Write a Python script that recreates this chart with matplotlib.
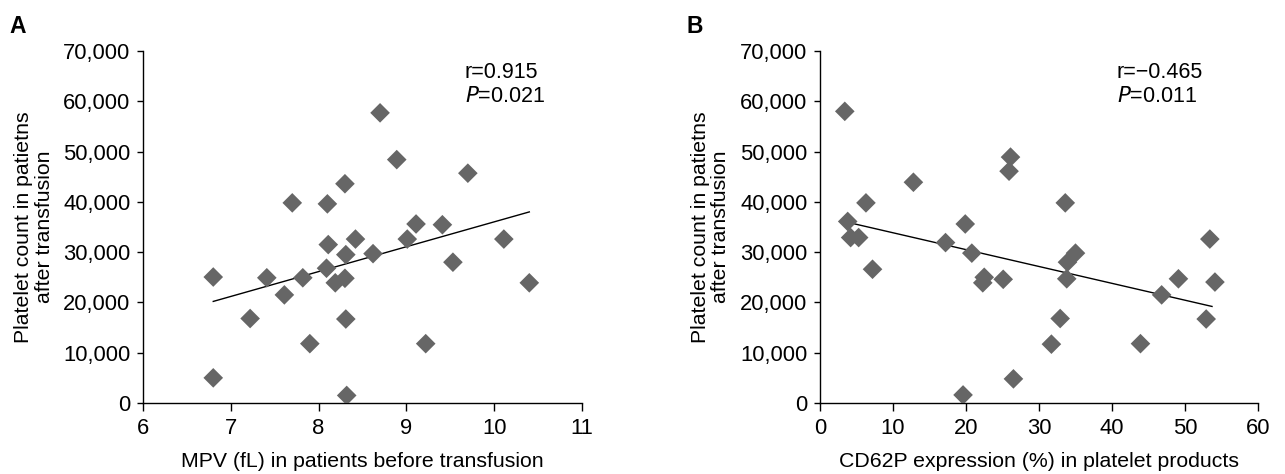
import matplotlib
matplotlib.use("Agg")
import matplotlib.pyplot as plt
from matplotlib.ticker import FuncFormatter

plt.rcParams["font.family"] = ["Liberation Sans", "DejaVu Sans"]

# ── Data: panel A (MPV vs platelet count) ─────────────────────────────────────
mpv = [6.80, 6.80, 7.22, 7.41, 7.61, 7.70, 7.82, 7.90, 8.10, 8.11, 8.09, 8.19,
       8.30, 8.30, 8.31, 8.31, 8.32, 8.42, 8.62, 8.70, 8.89, 9.01, 9.11, 9.22,
       9.41, 9.53, 9.70, 10.11, 10.40]
count_a = [25050, 5000, 16800, 24900, 21500, 39800, 24900, 11800, 39600, 31500,
           26800, 23900, 24800, 43600, 29500, 16700, 1500, 32600, 29700, 57700,
           48400, 32600, 35600, 11800, 35450, 28000, 45700, 32600, 23900]
fit_a_x = [6.8, 10.4]
fit_a_y = [20200, 38000]

# ── Data: panel B (CD62P vs platelet count) ───────────────────────────────────
cd62p = [3.4, 3.8, 4.2, 5.3, 6.3, 7.2, 12.8, 17.2, 19.6, 19.9, 20.8, 22.3,
         22.5, 25.1, 25.9, 26.1, 26.5, 31.7, 32.9, 33.6, 33.8, 33.9, 35.0,
         43.9, 46.8, 49.1, 52.9, 53.4, 54.1]
count_b = [58000, 36100, 32900, 32900, 39800, 26600, 43900, 31900, 1600, 35600,
           29800, 23900, 25000, 24600, 46100, 48900, 4800, 11700, 16800, 39800,
           24700, 28000, 29800, 11800, 21500, 24700, 16700, 32600, 24050]
fit_b_x = [3.3, 53.7]
fit_b_y = [36100, 19200]

ylab = "Platelet count in patietns\nafter transfusion"
yticks = list(range(0, 70001, 10000))

# ── Plot ──────────────────────────────────────────────────────────────────────
fig = plt.figure(figsize=(12.85, 4.74), dpi=100)
ax_a = fig.add_axes([0.1113, 0.1498, 0.3416, 0.7426])
ax_b = fig.add_axes([0.6381, 0.1498, 0.3409, 0.7426])

panels = [
    (ax_a, mpv, count_a, fit_a_x, fit_a_y, (6, 11), range(6, 12),
     "MPV (fL) in patients before transfusion", "r=0.915", "0.021", 0.733),
    (ax_b, cd62p, count_b, fit_b_x, fit_b_y, (0, 60), range(0, 61, 10),
     "CD62P expression (%) in platelet products", "r=\u22120.465", "0.011", 0.678),
]

for ax, x, y, fx, fy, xlim, xt, xlab, rtxt, ptxt, tx in panels:
    ax.plot(fx, fy, color="black", linewidth=1.0, zorder=2)
    ax.scatter(x, y, marker="D", s=100, color="#666666", edgecolors="none", zorder=3)
    ax.set_xlim(*xlim)
    ax.set_ylim(0, 70000)
    ax.set_xticks(list(xt))
    ax.set_yticks(yticks)
    ax.yaxis.set_major_formatter(FuncFormatter(lambda v, p: f"{int(v):,}"))
    for side in ("top", "right"):
        ax.spines[side].set_visible(False)
    for side in ("left", "bottom"):
        ax.spines[side].set_linewidth(1.0)
    ax.tick_params(axis="y", direction="out", length=4.5, width=1.0, labelsize=15.8, pad=4.5)
    ax.tick_params(axis="x", direction="out", length=5.5, width=1.0, labelsize=15.8, pad=5)
    ax.set_xlabel(xlab, fontsize=15.3, labelpad=10)
    ax.set_ylabel(ylab, fontsize=15.3, labelpad=7, linespacing=1.1)
    ax.text(tx, 0.968, rtxt, transform=ax.transAxes, fontsize=15.5, va="top")
    ax.text(tx, 0.900, "$\\it{P}$=" + ptxt, transform=ax.transAxes, fontsize=15.5, va="top")

fig.text(0.007, 0.968, "A", fontsize=16.5, fontweight="bold", va="top")
fig.text(0.534, 0.968, "B", fontsize=16.5, fontweight="bold", va="top")

plt.savefig("out.png", dpi=100)
print("Saved: out.png")
